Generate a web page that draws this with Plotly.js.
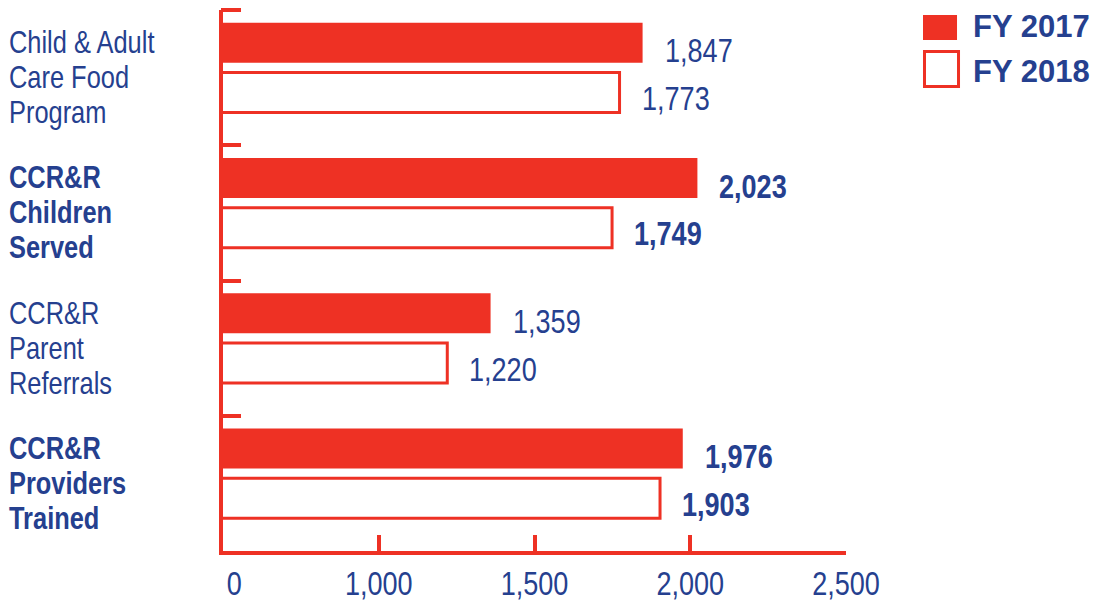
<!DOCTYPE html>
<html>
<head>
<meta charset="utf-8">
<script src="https://cdn.plot.ly/plotly-3.0.1.min.js"></script>
<style>
  html, body { margin: 0; padding: 0; background: #ffffff; }
  #chart { width: 1095px; height: 601px; }
</style>
</head>
<body>
<div id="chart"></div>
<script>
// ---- data ----
const categories = [
  "Child & Adult<br>Care Food<br>Program",
  "CCR&R<br>Children<br>Served",
  "CCR&R<br>Parent<br>Referrals",
  "CCR&R<br>Providers<br>Trained"
];
const boldCategory = [false, true, false, true];
const seriesNames = ["FY 2017", "FY 2018"];
const fy2017 = [1847, 2023, 1359, 1976];
const fy2018 = [1773, 1749, 1220, 1903];
const tickVals = [500, 1000, 1500, 2000, 2500];
const tickText = ["\u00a0\u00a0\u00a00", "1,000", "1,500", "2,000", "2,500"];

// ---- styling ----
const RED = "#ee3124";
const BLUE = "#25408f";
const FONT = "'Liberation Sans', Arial, sans-serif";
const NARROW = 0.82;   // horizontal condensing to mimic a narrow face

const barW = 0.295;
const off2017 = -0.405;
const off2018 = -0.037;

const traces = [
  {
    type: "bar", orientation: "h", name: seriesNames[0],
    y: categories, x: fy2017,
    width: barW, offset: off2017,
    marker: { color: RED, line: { color: RED, width: 0 } },
    showlegend: false, hoverinfo: "x"
  },
  {
    type: "bar", orientation: "h", name: seriesNames[1],
    y: categories, x: fy2018,
    width: barW, offset: off2018,
    marker: { color: "#ffffff", line: { color: RED, width: 3 } },
    showlegend: false, hoverinfo: "x"
  }
];

const fmt = v => v.toLocaleString("en-US");
const annotations = [];
const wideAnnotations = [];

// category labels (left aligned, one annotation per line)
categories.forEach((c, i) => {
  const lines = c.split("<br>");
  lines.forEach((ln, j) => {
    annotations.push({
      xref: "paper", yref: "y", x: -0.347, y: i,
      xanchor: "left", yanchor: "middle", align: "left",
      yshift: ((lines.length - 1) / 2 - j) * 35,
      text: boldCategory[i] ? "<b>" + ln + "</b>" : ln,
      showarrow: false,
      font: { family: FONT, size: 31, color: BLUE }
    });
  });
});

// value labels
[fy2017, fy2018].forEach((arr, s) => {
  const off = s === 0 ? off2017 : off2018;
  arr.forEach((v, i) => {
    annotations.push({
      xref: "x", yref: "y", x: v, y: i + off + barW / 2,
      xanchor: "left", yanchor: "middle", align: "left",
      xshift: 20, yshift: s === 0 ? -8 : -6,
      text: boldCategory[i] ? "<b>" + fmt(v) + "</b>" : fmt(v),
      showarrow: false,
      font: { family: FONT, size: 33, color: BLUE }
    });
  });
});

// custom legend text
seriesNames.forEach((n, s) => {
  wideAnnotations.push(annotations.length);
  annotations.push({
    xref: "paper", yref: "paper",
    x: 1.2, y: s === 0 ? 0.969 : 0.887,
    xanchor: "left", yanchor: "middle",
    text: "<b>" + n + "</b>", showarrow: false,
    font: { family: FONT, size: 31, color: BLUE }
  });
});

const shapes = [
  // legend swatches
  { type: "rect", xref: "paper", yref: "paper", x0: 1.1236, x1: 1.1782, y0: 0.9445, y1: 0.9908,
    fillcolor: RED, line: { width: 0 } },
  { type: "rect", xref: "paper", yref: "paper", x0: 1.1260, x1: 1.1806, y0: 0.8586, y1: 0.9233,
    fillcolor: "#ffffff", line: { color: RED, width: 3 } },
  // top boundary tick of the category axis
  { type: "line", xref: "paper", yref: "paper", xsizemode: "pixel", xanchor: 0,
    x0: -2, x1: 18, y0: 1, y1: 1, line: { color: RED, width: 4 } }
];

const layout = {
  width: 1095, height: 601,
  margin: { l: 223, r: 249, t: 10, b: 50, pad: 0 },
  paper_bgcolor: "#ffffff", plot_bgcolor: "#ffffff",
  barmode: "overlay",
  showlegend: false,
  xaxis: {
    range: [500, 2500], fixedrange: true,
    tickmode: "array", tickvals: tickVals, ticktext: tickText,
    ticks: "inside", ticklen: 16, tickwidth: 4, tickcolor: RED,
    showline: true, linecolor: RED, linewidth: 4,
    showgrid: false, zeroline: false,
    tickfont: { family: FONT, size: 33, color: BLUE }
  },
  yaxis: {
    type: "category", range: [3.5, -0.5], fixedrange: true,
    tickson: "boundaries",
    ticks: "inside", ticklen: 18, tickwidth: 4, tickcolor: RED,
    showticklabels: false,
    showline: true, linecolor: RED, linewidth: 4,
    showgrid: false, zeroline: false
  },
  annotations: annotations,
  shapes: shapes,
  font: { family: FONT, color: BLUE }
};

function condense(el, k) {
  const bb = el.getBBox();
  const anchor = el.getAttribute("text-anchor") || getComputedStyle(el).textAnchor || "start";
  let cx = bb.x;
  if (anchor === "middle") cx = bb.x + bb.width / 2;
  else if (anchor === "end") cx = bb.x + bb.width;
  const prev = el.getAttribute("transform") || "";
  el.setAttribute("transform",
    (prev + " translate(" + cx + ",0) scale(" + k + ",1) translate(" + (-cx) + ",0)").trim());
}

Plotly.newPlot("chart", traces, layout, { displayModeBar: false, staticPlot: true }).then(gd => {
  gd.querySelectorAll(".xtick text").forEach(t => condense(t, NARROW));
  gd.querySelectorAll("g.annotation").forEach(g => {
    const idx = +g.getAttribute("data-index");
    if (wideAnnotations.indexOf(idx) >= 0) return;
    g.querySelectorAll("text.annotation-text").forEach(t => condense(t, NARROW));
  });
});
</script>
</body>
</html>
